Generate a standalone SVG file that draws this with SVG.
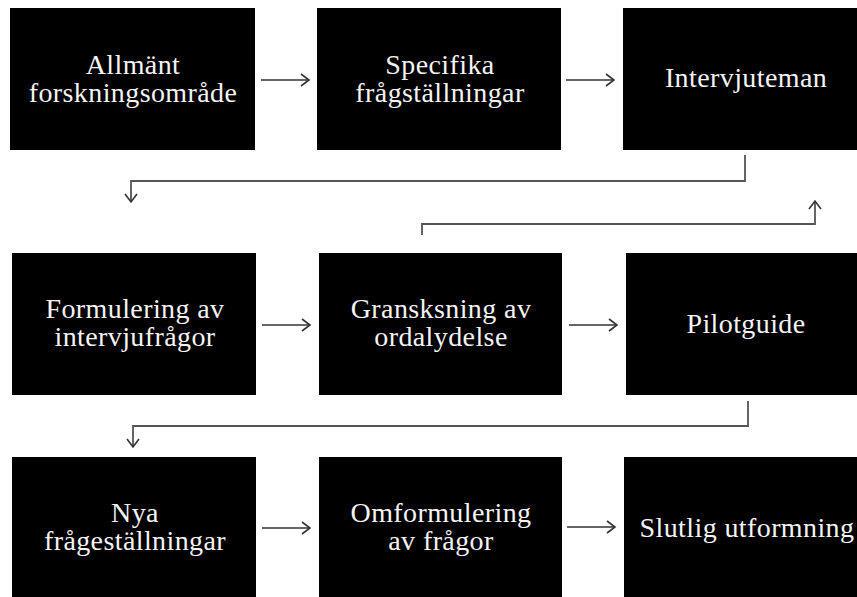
<svg xmlns="http://www.w3.org/2000/svg" width="857" height="597" viewBox="0 0 857 597">
<defs>
<style>
.box{fill:#000;}
.t{fill:#f4f4f4;font-family:"Liberation Serif","Times New Roman",serif;font-size:28px;letter-spacing:0.4px;text-anchor:middle;}
.arr{stroke:#333;stroke-width:1.6;fill:none;marker-end:url(#ah);}
.con{stroke:#555;stroke-width:1.8;fill:none;marker-end:url(#ah);}
</style>
<marker id="ah" markerUnits="userSpaceOnUse" markerWidth="14" markerHeight="16" refX="10" refY="8" orient="auto">
<path d="M2,2 L10,8 L2,14" fill="none" stroke="#333" stroke-width="1.6"/>
</marker>
</defs>
<rect width="857" height="597" fill="#fff"/>
<g id="n1"><rect class="box" x="10" y="8" width="245" height="142"/><text class="t" x="133" y="74">Allmänt</text><text class="t" x="133" y="102">forskningsområde</text></g>
<g id="n2"><rect class="box" x="317" y="8" width="244" height="142"/><text class="t" x="440" y="74">Specifika</text><text class="t" x="440" y="102">frågställningar</text></g>
<g id="n3"><rect class="box" x="623" y="8" width="244" height="142"/><text class="t" x="746" y="87">Intervjuteman</text></g>
<g id="n4"><rect class="box" x="12" y="253" width="244" height="142"/><text class="t" x="135" y="318">Formulering av</text><text class="t" x="135" y="346">intervjufrågor</text></g>
<g id="n5"><rect class="box" x="319" y="253" width="243" height="142"/><text class="t" x="441" y="318">Gransksning av</text><text class="t" x="441" y="346">ordalydelse</text></g>
<g id="n6"><rect class="box" x="626" y="253" width="241" height="142"/><text class="t" x="746" y="333">Pilotguide</text></g>
<g id="n7"><rect class="box" x="12" y="457" width="244" height="150"/><text class="t" x="135" y="522">Nya</text><text class="t" x="135" y="550">frågeställningar</text></g>
<g id="n8"><rect class="box" x="319" y="457" width="243" height="150"/><text class="t" x="441" y="522">Omformulering</text><text class="t" x="441" y="550">av frågor</text></g>
<g id="n9"><rect class="box" x="624" y="457" width="243" height="150"/><text class="t" x="747" y="537">Slutlig utformning</text></g>
<g id="connectors">
<path class="arr" d="M261,80 H309"/>
<path class="arr" d="M566,80 H614"/>
<path class="arr" d="M262,325 H310"/>
<path class="arr" d="M569,325 H617"/>
<path class="arr" d="M262,528 H310"/>
<path class="arr" d="M567,527 H615"/>
<path class="con" d="M745,155 V181 H131 V202"/>
<path class="con" d="M422,235 V224 H815 V201"/>
<path class="con" d="M748,401 V426 H133 V447"/>
</g>
</svg>
